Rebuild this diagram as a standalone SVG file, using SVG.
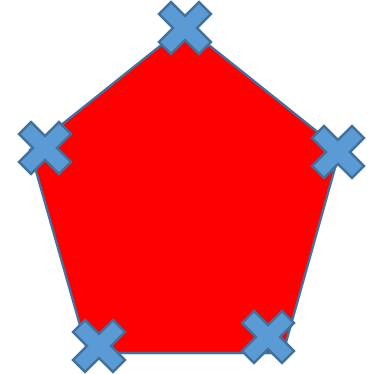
<svg xmlns="http://www.w3.org/2000/svg" xmlns:xlink="http://www.w3.org/1999/xlink" width="377" height="374" viewBox="0 0 377 374">
<style>
.pent{fill:#FF0000;stroke:#41719C;stroke-width:2.5;stroke-linejoin:miter}
.x{fill:#5B9BD5;stroke:#41719C;stroke-width:2.5;stroke-linejoin:miter}
</style>
<defs>
<polygon id="cross" points="-14,-26 0,-12 14,-26 26,-14 12,0 26,14 14,26 0,12 -14,26 -26,14 -12,0 -26,-14"/>
</defs>
<rect width="377" height="374" fill="#FFFFFF"/>
<g id="pentagon">
<polygon class="pent" points="185,26 340,150 283,353 88,353 30,150"/>
</g>
<g id="cross-top"><use xlink:href="#cross" class="x" transform="translate(185,28)"/></g>
<g id="cross-left"><use xlink:href="#cross" class="x" transform="translate(45,148)"/></g>
<g id="cross-right"><use xlink:href="#cross" class="x" transform="translate(338,152)"/></g>
<g id="cross-bottom-left"><use xlink:href="#cross" class="x" transform="translate(99,346)"/></g>
<g id="cross-bottom-right"><use xlink:href="#cross" class="x" transform="translate(268,337)"/></g>
</svg>
